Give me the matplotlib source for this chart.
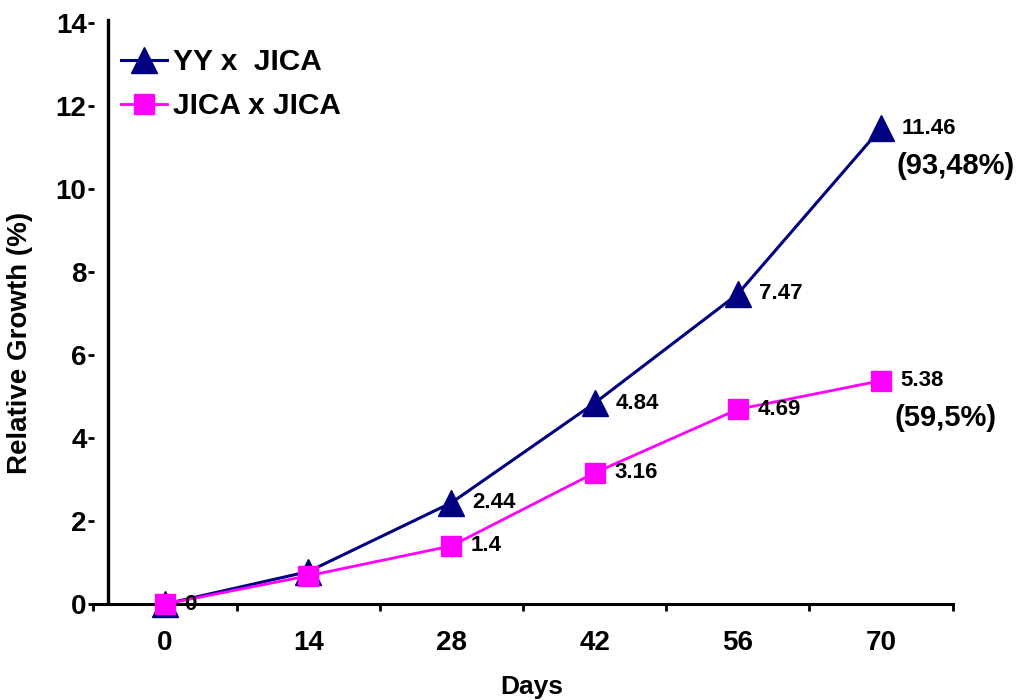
import matplotlib.pyplot as plt

plt.rcParams['font.family'] = ['Liberation Sans', 'DejaVu Sans']
plt.rcParams['font.weight'] = 'bold'

# data
days = ['0', '14', '28', '42', '56', '70']
yy_jica = [0, 0.78, 2.44, 4.84, 7.47, 11.46]
jica_jica = [0, 0.68, 1.4, 3.16, 4.69, 5.38]
yy_labels = ['0', '', '2.44', '4.84', '7.47', '11.46']
jica_labels = ['0', '', '1.4', '3.16', '4.69', '5.38']
final_pct = ['(93,48%)', '(59,5%)']

navy = '#000080'
magenta = '#FF00FF'

fig = plt.figure(figsize=(10.19, 7), dpi=100)
ax = fig.add_axes([93.5 / 1019, 1 - 604 / 700, 859 / 1019, 581 / 700])

x = list(range(len(days)))
ax.plot(x, yy_jica, color=navy, lw=2.2, marker='^', ms=19,
        label='YY x  JICA', clip_on=False, zorder=3)
ax.plot(x, jica_jica, color=magenta, lw=2.0, marker='s', ms=14.5,
        label='JICA x JICA', clip_on=False, zorder=4)

# value labels
for xi, v, t in zip(x, yy_jica, yy_labels):
    if t and xi > 0:
        ax.annotate(t, (xi, v), xytext=(15, 0), textcoords='offset points',
                    va='center', ha='left', fontsize=16, fontweight='bold')
for xi, v, t in zip(x, jica_jica, jica_labels):
    if t:
        ax.annotate(t, (xi, v), xytext=(14, 0), textcoords='offset points',
                    va='center', ha='left', fontsize=16, fontweight='bold',
                    zorder=5)

ax.annotate(final_pct[0], (x[-1], yy_jica[-1]), xytext=(11, -27),
            textcoords='offset points', va='center', ha='left',
            fontsize=21, fontweight='bold')
ax.annotate(final_pct[1], (x[-1], jica_jica[-1]), xytext=(10, -27),
            textcoords='offset points', va='center', ha='left',
            fontsize=21, fontweight='bold')

ax.set_xlim(-0.5, len(days) - 0.5)
ax.set_ylim(0, 14)

# x axis: labels at categories, ticks between categories
ax.set_xticks(x)
ax.set_xticklabels(days)
ax.set_xticks([i - 0.5 for i in range(len(days) + 1)], minor=True)
ax.tick_params(axis='x', which='major', length=0, pad=19, labelsize=20)
ax.tick_params(axis='x', which='minor', length=5, width=2, direction='out')

ax.set_yticks(range(0, 15, 2))
ax.tick_params(axis='y', length=4, width=2, direction='out', pad=1,
               labelsize=20)

for s in ['top', 'right', 'left']:
    ax.spines[s].set_visible(False)
ax.spines['bottom'].set_linewidth(2.2)

# detached vertical axis line
ax.axvline(-0.4, ymin=0.003, ymax=1.005, color='black', lw=2.4,
           clip_on=False)

ax.set_xlabel('Days', fontsize=19, fontweight='bold')
ax.xaxis.set_label_coords(0.51, -0.122)
ax.set_ylabel('Relative Growth (%)', fontsize=20, fontweight='bold')
ax.yaxis.set_label_coords(-0.071, 0.449)

ax.legend(loc='upper left', bbox_to_anchor=(121 / 1019, 1 - 48 / 700),
          bbox_transform=fig.transFigure, frameon=False, fontsize=21.5,
          handlelength=1.55, handletextpad=0.2, borderpad=0,
          borderaxespad=0, labelspacing=0.55)

fig.savefig('out.png', dpi=100)
